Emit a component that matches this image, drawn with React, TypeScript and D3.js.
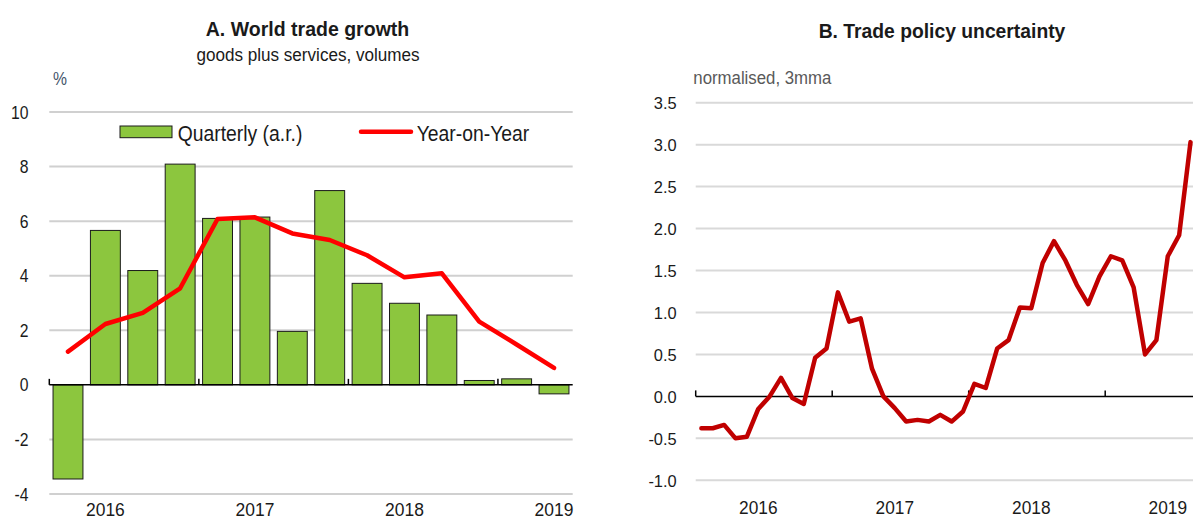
import React from "react";
import * as d3 from "d3";


// ---- Panel A: world trade growth, quarterly ----
const quarters: string[] = [
    "2016Q1", "2016Q2", "2016Q3", "2016Q4",
    "2017Q1", "2017Q2", "2017Q3", "2017Q4",
    "2018Q1", "2018Q2", "2018Q3", "2018Q4",
    "2019Q1", "2019Q2",
];
const quarterly_ar: number[] = [-3.45, 5.66, 4.19, 8.09, 6.10, 6.15, 1.96, 7.12, 3.72, 2.99, 2.56, 0.16, 0.22, -0.33];
const year_on_year: number[] = [1.22, 2.23, 2.64, 3.54, 6.08, 6.14, 5.55, 5.31, 4.75, 3.94, 4.09, 2.32, 1.48, 0.62];
const a_year_labels: { at: string, label: string }[] = [
    { at: "2016Q2", label: "2016" },
    { at: "2017Q2", label: "2017" },
    { at: "2018Q2", label: "2018" },
    { at: "2019Q2", label: "2019" },
];
const a_year_starts: string[] = ["2016Q1", "2017Q1", "2018Q1", "2019Q1"];
const a_ticks: number[] = [10, 8, 6, 4, 2, 0, -2, -4];

// ---- Panel B: trade policy uncertainty, monthly ----
const months: string[] = d3.range(44).map(i => `${2016 + Math.floor(i / 12)}-${String(i % 12 + 1).padStart(2, "0")}`);
const uncertainty: number[] = [
    -0.38, -0.38, -0.34, -0.50, -0.48, -0.15, 0.00, 0.22, -0.02, -0.09, 0.46, 0.57,
    1.24, 0.89, 0.93, 0.33, 0.00, -0.14, -0.30, -0.28, -0.30, -0.22, -0.30, -0.18,
    0.15, 0.10, 0.57, 0.67, 1.06, 1.05, 1.59, 1.85, 1.62, 1.33, 1.10, 1.43,
    1.67, 1.62, 1.30, 0.50, 0.67, 1.67, 1.92, 3.03,
];
const b_year_labels: { at: string, label: string }[] = [
    { at: "2016-06", label: "2016" },
    { at: "2017-06", label: "2017" },
    { at: "2018-06", label: "2018" },
    { at: "2019-06", label: "2019" },
];
const b_year_starts: string[] = ["2016-01", "2017-01", "2018-01", "2019-01"];
const b_ticks: number[] = [3.5, 3.0, 2.5, 2.0, 1.5, 1.0, 0.5, 0.0, -0.5, -1.0];


const FONT = "'Liberation Sans', Arial, sans-serif";

/** text squeezed horizontally, the source chart uses a condensed face */
function T(props: {
    x: number, y: number, size: number, sx?: number, anchor?: string,
    weight?: string, fill?: string, children: React.ReactNode,
}): React.JSX.Element {
    const { x, y, size, sx = 1, anchor = "start", weight = "normal", fill = "#1a1a1a" } = props;
    return <text
        transform={`translate(${x},${y}) scale(${sx},1)`}
        fontSize={size}
        fontFamily={FONT}
        fontWeight={weight}
        textAnchor={anchor}
        fill={fill}
    >{props.children}</text>
}


function PanelA(): React.JSX.Element {
    const x = d3.scaleBand<string>().domain(quarters).range([49.3, 572.7]).paddingInner(0.2).paddingOuter(0.1);
    const y = d3.scaleLinear().domain([-4, 10]).range([494, 112]);
    const step: number = x.step();
    const x0: number = x.range()[0];
    const center = (q: string): number => x(q)! + x.bandwidth() / 2;

    const line = d3.line<number>()
        .x((_, i) => center(quarters[i]!))
        .y(d => y(d));

    return <g>
        <T x={307.5} y={35.5} size={21} sx={0.93} anchor="middle" weight="bold">A. World trade growth</T>
        <T x={308} y={61} size={19} sx={0.9} anchor="middle">goods plus services, volumes</T>
        <T x={53} y={85} size={18.5} sx={0.85} fill="#44546A">%</T>

        {a_ticks.map(t => <g key={t}>
            {t !== 0 && <line x1={x0} x2={572.7} y1={y(t)} y2={y(t)} stroke="#D0D0D0" strokeWidth={2} />}
            <T x={28.5} y={y(t) + 6.6} size={18.5} sx={0.85} anchor="end">{t}</T>
        </g>)}

        {quarterly_ar.map((v, i) => <rect key={i}
            x={x(quarters[i]!)}
            y={y(Math.max(0, v))}
            width={x.bandwidth()}
            height={Math.abs(y(v) - y(0))}
            fill="#8CC63E"
            stroke="#1a1a1a"
            strokeWidth={1}
        />)}

        <line x1={x0} x2={572.7} y1={y(0)} y2={y(0)} stroke="#000" strokeWidth={1.5} />
        {a_year_starts.map(q => <line key={q}
            x1={x(q)! - step * 0.1} x2={x(q)! - step * 0.1}
            y1={y(0)} y2={y(0) - 6}
            stroke="#000" strokeWidth={1.5}
        />)}

        <path d={line(year_on_year)!} fill="none" stroke="#FF0000" strokeWidth={4.5} strokeLinejoin="round" strokeLinecap="round" />

        {a_year_labels.map(l => <T key={l.label} x={center(l.at)} y={515.5} size={19} sx={0.92} anchor="middle">{l.label}</T>)}

        {/* legend */}
        <rect x={120} y={126} width={52} height={11.7} fill="#8CC63E" stroke="#1a1a1a" strokeWidth={1} />
        <T x={177.7} y={141} size={22.5} sx={0.86}>Quarterly (a.r.)</T>
        <line x1={361} x2={411} y1={131.7} y2={131.7} stroke="#FF0000" strokeWidth={4.5} strokeLinecap="round" />
        <T x={416.7} y={141} size={22.5} sx={0.86}>Year-on-Year</T>
    </g>
}


function PanelB(): React.JSX.Element {
    const x = d3.scaleBand<string>().domain(months).range([695.7, 1196.2]);
    const y = d3.scaleLinear().domain([-1, 3.5]).range([480.3, 102.7]);
    const center = (m: string): number => x(m)! + x.bandwidth() / 2;

    const line = d3.line<number>()
        .x((_, i) => center(months[i]!))
        .y(d => y(d));

    return <g>
        <T x={942} y={38} size={21} sx={0.92} anchor="middle" weight="bold">B. Trade policy uncertainty</T>
        <T x={693.3} y={83.5} size={17.5} sx={0.96} fill="#595959">normalised, 3mma</T>

        {b_ticks.map(t => <g key={t}>
            {t !== 0 && <line x1={695.7} x2={1193} y1={y(t)} y2={y(t)} stroke="#D9D9D9" strokeWidth={2} />}
            <T x={676.7} y={y(t) + 6.2} size={17.3} sx={0.95} anchor="end">{t.toFixed(1)}</T>
        </g>)}

        <line x1={695.7} x2={1193} y1={y(0)} y2={y(0)} stroke="#000" strokeWidth={1.5} />
        {b_year_starts.map(m => <line key={m}
            x1={x(m)!} x2={x(m)!}
            y1={y(0)} y2={y(0) - 6}
            stroke="#000" strokeWidth={1.5}
        />)}

        <path d={line(uncertainty)!} fill="none" stroke="#C00000" strokeWidth={4.5} strokeLinejoin="round" strokeLinecap="round" />

        {b_year_labels.map(l => <T key={l.label} x={center(l.at)} y={513.5} size={18.6} sx={0.93} anchor="middle">{l.label}</T>)}
    </g>
}


export default function App(): React.JSX.Element {
    return <svg
        width={1193}
        height={520}
        style={{ position: "absolute", left: 0, top: 0, background: "#fff" }}
    >
        <PanelA />
        <PanelB />
    </svg>
}
